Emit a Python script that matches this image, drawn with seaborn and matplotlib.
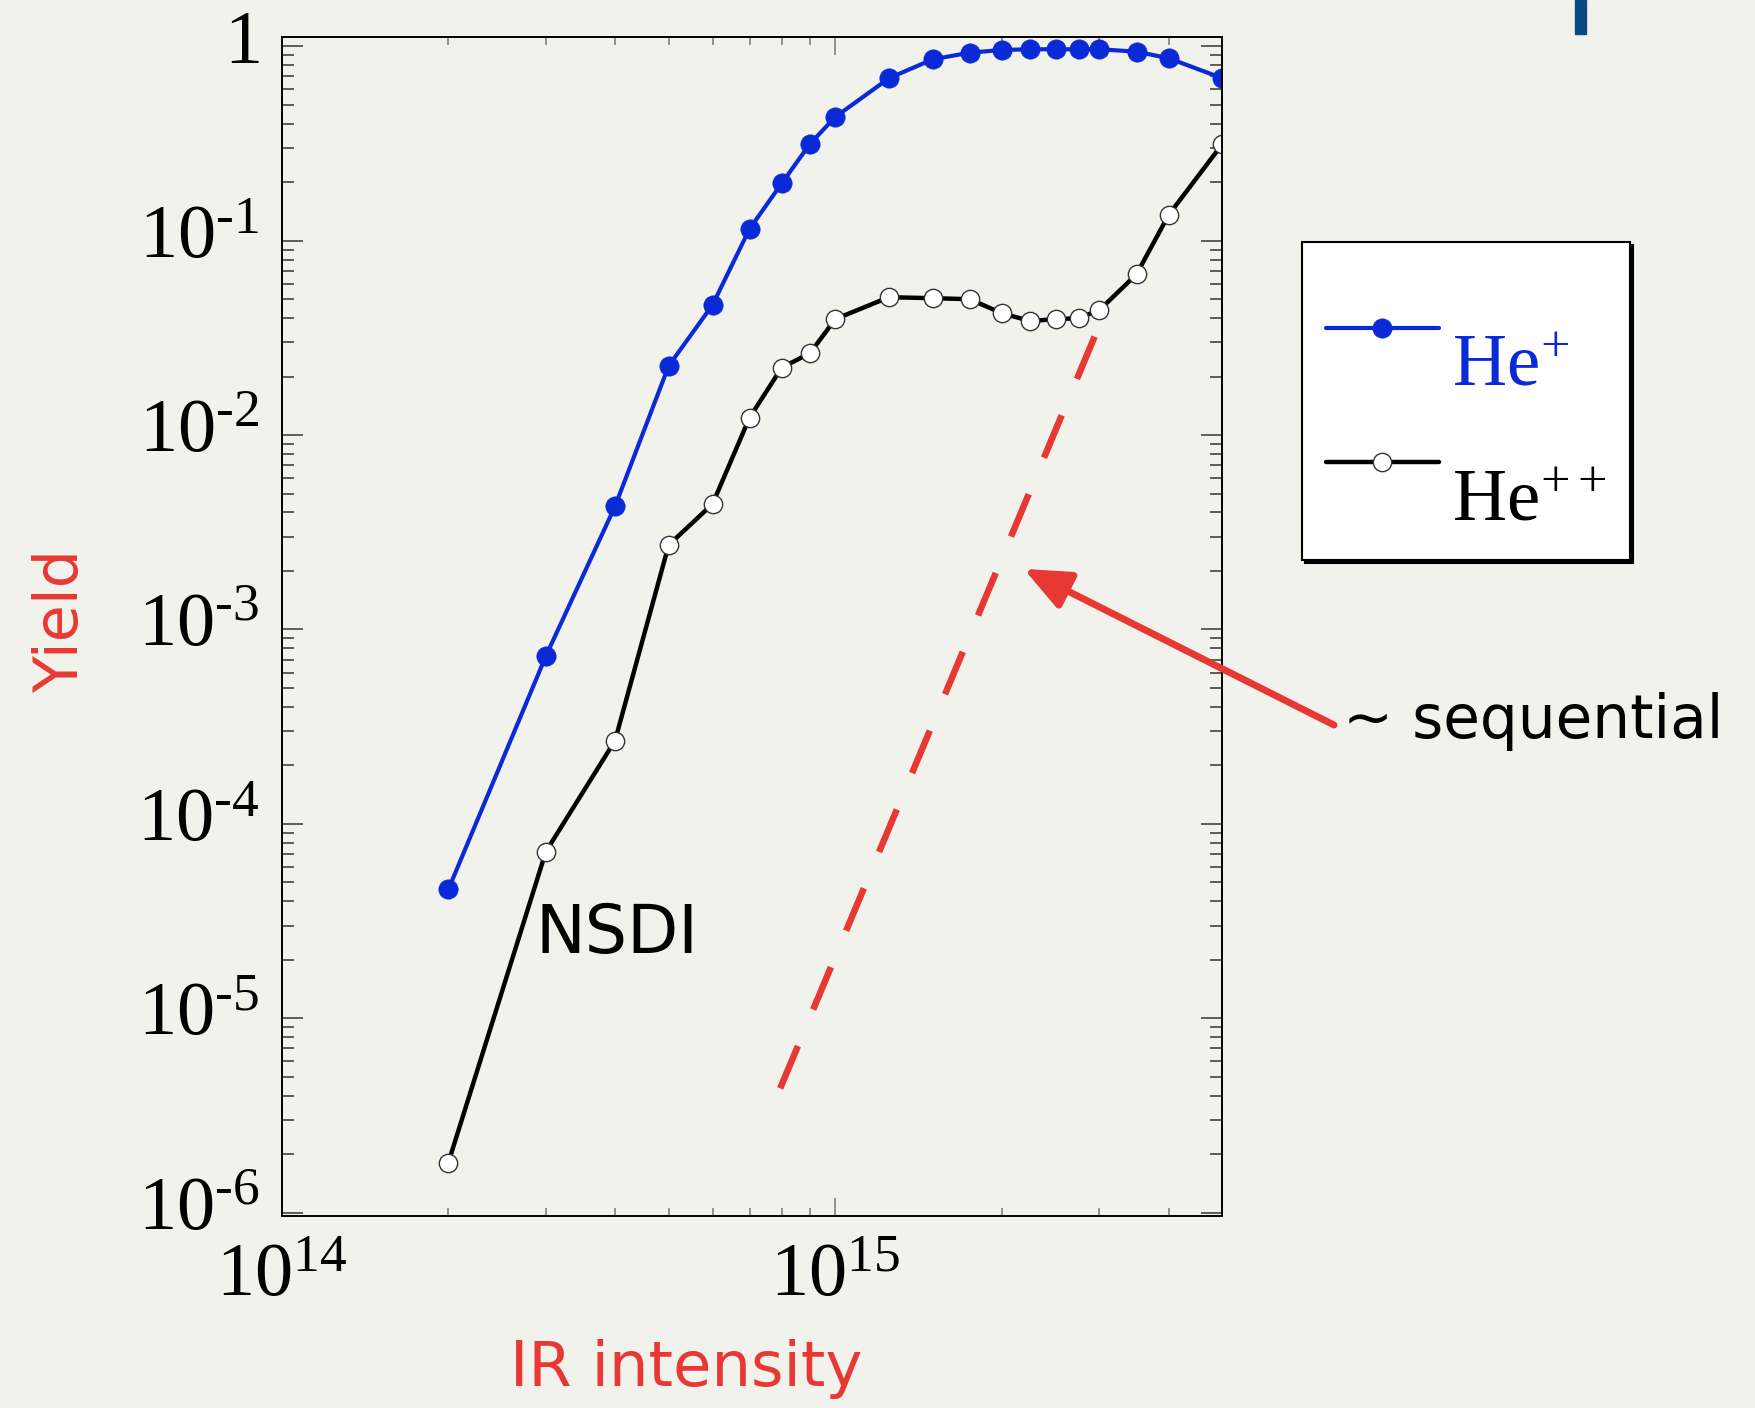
import numpy as np
import matplotlib
matplotlib.use("Agg")
import matplotlib.pyplot as plt
import matplotlib.transforms as mtransforms
from matplotlib.ticker import FixedLocator, FixedFormatter, LogLocator, NullFormatter
from matplotlib.legend_handler import HandlerLine2D
from matplotlib.patches import Rectangle
import seaborn as sns

# IR intensity (W/cm^2) and ion yields
intensity = np.array([2, 3, 4, 5, 6, 7, 8, 9, 10, 12.5, 15, 17.5, 20, 22.5,
                      25, 27.5, 30, 35, 40, 50]) * 1e14
he_plus = [4.6e-5, 7.3e-4, 4.3e-3, 2.27e-2, 4.67e-2, 0.115, 0.197, 0.315, 0.433,
           0.685, 0.857, 0.927, 0.957, 0.965, 0.965, 0.965, 0.965, 0.938, 0.868, 0.685]
he_plusplus = [1.81e-6, 7.2e-5, 2.68e-4, 2.72e-3, 4.42e-3, 1.23e-2, 2.22e-2, 2.64e-2,
               3.95e-2, 5.12e-2, 5.06e-2, 5.0e-2, 4.23e-2, 3.86e-2, 3.95e-2, 3.99e-2,
               4.4e-2, 6.72e-2, 0.1356, 0.314]

# dashed "sequential" guide line
seq_x = [7.95e14, 2.94e15]
seq_y = [4.36e-6, 3.21e-2]
arrow_tip = (2.19e15, 2.05e-3)

ytick_vals = [1e-6, 1e-5, 1e-4, 1e-3, 1e-2, 1e-1, 1]
ytick_labels = [r'$\mathrm{10^{\text{-}6}}$', r'$\mathrm{10^{\text{-}5}}$',
                r'$\mathrm{10^{\text{-}4}}$', r'$\mathrm{10^{\text{-}3}}$',
                r'$\mathrm{10^{\text{-}2}}$', r'$\mathrm{10^{\text{-}1}}$',
                r'$\mathrm{1}$']
xtick_vals = [1e14, 1e15]
xtick_labels = [r'$\mathrm{10^{14}}$', r'$\mathrm{10^{15}}$']
legend_labels = [r'$\mathrm{He^{+}}$', r'$\mathrm{He^{++}}$']

BLUE = '#0a2ad8'
RED = '#e83834'
BG = '#f2f2ec'
W, H = 1755, 1408

sns.set_style("ticks")
plt.rcParams['font.family'] = ['DejaVu Sans']
plt.rcParams['text.color'] = 'black'
plt.rcParams['mathtext.fontset'] = 'custom'
plt.rcParams['mathtext.rm'] = 'Liberation Serif'
plt.rcParams['mathtext.it'] = 'Liberation Serif:italic'
plt.rcParams['mathtext.bf'] = 'Liberation Serif:bold'

fig = plt.figure(figsize=(W / 100, H / 100), dpi=100, facecolor=BG)
ax = fig.add_axes([281.7 / W, 1 - 1216 / H, (1222.3 - 281.7) / W, (1216 - 37.3) / H])
ax.set_facecolor(BG)

sns.lineplot(x=intensity, y=he_plus, ax=ax, color=BLUE, lw=3.0, marker='o',
             markersize=13.9, markerfacecolor=BLUE, markeredgecolor=BLUE,
             markeredgewidth=0.5, legend=False)
sns.lineplot(x=intensity, y=he_plusplus, ax=ax, color='black', lw=3.2, marker='o',
             markersize=13.2, markerfacecolor='white', markeredgecolor='#333333',
             markeredgewidth=1.0, legend=False)
sns.lineplot(x=seq_x, y=seq_y, ax=ax, color=RED, lw=4.7, linestyle=(0, (7.05, 6.04)),
             legend=False)

ax.set_xscale('log')
ax.set_yscale('log')
ax.set_xlim(1e14, 5e15)
ax.set_ylim(9.62e-7, 1.112)
ax.set_xlabel('')
ax.set_ylabel('')

ax.xaxis.set_major_locator(FixedLocator(xtick_vals))
ax.xaxis.set_major_formatter(FixedFormatter(xtick_labels))
ax.xaxis.set_minor_locator(LogLocator(base=10, subs=np.arange(2, 10)))
ax.xaxis.set_minor_formatter(NullFormatter())
ax.yaxis.set_major_locator(FixedLocator(ytick_vals))
ax.yaxis.set_major_formatter(FixedFormatter(ytick_labels))
ax.yaxis.set_minor_locator(LogLocator(base=10, subs=np.arange(2, 10), numticks=20))
ax.yaxis.set_minor_formatter(NullFormatter())

ax.tick_params(axis='both', which='both', direction='in', top=True, right=True)
ax.tick_params(axis='x', which='major', length=13, width=1.1, color='#777777',
               labelsize=55, pad=16, labelcolor='black')
ax.tick_params(axis='x', which='minor', length=5.8, width=1.1, color='#777777')
ax.tick_params(axis='y', which='major', length=15, width=1.1, color='#333333',
               labelsize=55, pad=16, labelcolor='black')
ax.tick_params(axis='y', which='minor', length=8.6, width=1.1, color='#333333')
for sp in ax.spines.values():
    sp.set_color('black')
    sp.set_linewidth(1.4)

# legend with the line drawn at superscript height
lift = 0.42 * 54


def raise_handle(leg_line, orig_line):
    leg_line.update_from(orig_line)
    leg_line.set_markevery([1])
    leg_line.set_ydata(np.asarray(leg_line.get_ydata()) + lift)


handles = ax.lines[:2]
leg = ax.legend(handles, legend_labels,
                loc='upper left', bbox_to_anchor=(1302 / W, 1 - 242 / H),
                bbox_transform=fig.transFigure, borderaxespad=0, prop={'size': 54},
                title=' ', title_fontsize=1,
                handlelength=1.5, handletextpad=0.18, borderpad=0.32, labelspacing=0.82,
                fancybox=False, framealpha=1, facecolor='white', edgecolor='black',
                shadow={'color': 'black', 'alpha': 1},
                handler_map={matplotlib.lines.Line2D: HandlerLine2D(update_func=raise_handle)})
leg.get_frame().set_linewidth(1.5)
for txt, col in zip(leg.get_texts(), [BLUE, 'black']):
    txt.set_color(col)

# labels and annotations
fig.text(78 / W, 1 - 621 / H, 'Yield', rotation=90, rotation_mode='anchor',
         ha='center', va='baseline', color=RED, fontsize=43.5)
fig.text(686 / W, 1 - 1386 / H, 'IR intensity', ha='center', va='baseline',
         color=RED, fontsize=45)
fig.text(535 / W, 1 - 953 / H, 'NSDI', ha='left', va='baseline', color='black',
         fontsize=48)
fig.text(1343 / W, 1 - 738 / H, '~ sequential', ha='left', va='baseline',
         color='black', fontsize=43)
ax.annotate('', xy=arrow_tip, xycoords='data', xytext=(1334 / W, 1 - 725 / H),
            textcoords='figure fraction', annotation_clip=False,
            arrowprops=dict(arrowstyle='-|>,head_length=2.8,head_width=1.2', color=RED,
                            lw=5, mutation_scale=10, shrinkA=0, shrinkB=0))

# small dark bar at the top right of the slide
fig.patches.append(Rectangle((1575 / W, 1 - 34 / H), 11 / W, 34 / H,
                             transform=fig.transFigure, color='#0b4a80'))

# shift y tick labels so the baseline sits a bit below the tick
offset = mtransforms.ScaledTranslation(0, -12.2 / 72, fig.dpi_scale_trans)
for t in ax.yaxis.get_major_ticks():
    t.label1.set_verticalalignment('baseline')
    t.label1.set_transform(t.label1.get_transform() + offset)

fig.savefig('out.png', dpi=100, facecolor=BG)
